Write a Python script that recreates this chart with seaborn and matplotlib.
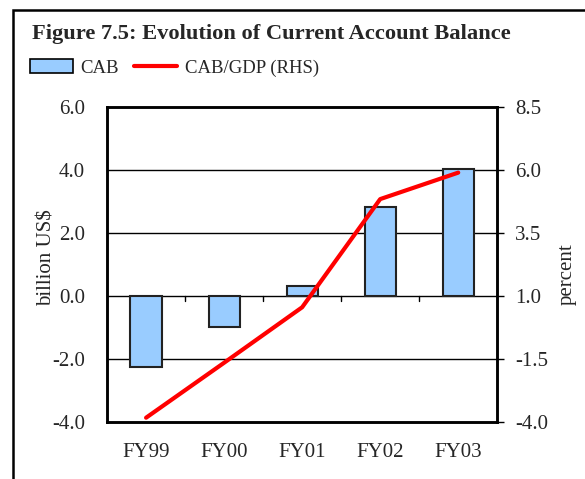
import numpy as np
import pandas as pd
import seaborn as sns
import matplotlib.pyplot as plt
from matplotlib.patches import Patch, Rectangle
from matplotlib.lines import Line2D

years = ["FY99", "FY00", "FY01", "FY02", "FY03"]
cab = [-2.25, -1.0, 0.33, 2.83, 4.02]          # billion US$
cab_gdp = [-3.83, -1.65, 0.55, 4.84, 5.89]     # percent (RHS)

sns.set_theme(style="white")
plt.rcParams["font.family"] = ["Liberation Serif", "DejaVu Serif"]

fig = plt.figure(figsize=(5.85, 4.79), dpi=100)
ax = fig.add_axes([0.183, 0.119, 0.667, 0.658])

df = pd.DataFrame({"year": years, "cab": cab})
sns.barplot(data=df, x="year", y="cab", color="#99ccff", width=0.4,
            edgecolor="#222222", linewidth=1.5, saturation=1, ax=ax, zorder=3)

ax.set_ylim(-4, 6)
ax.set_yticks([-4, -2, 0, 2, 4, 6])
ax.set_yticklabels(["%.1f" % v for v in [-4, -2, 0, 2, 4, 6]])
for v in [-2, 0, 2, 4]:
    ax.axhline(v, color="black", lw=1, zorder=1)
ax.set_xlim(-0.5, 4.5)
ax.set_xlabel("")
ax.set_ylabel("billion US$", fontsize=15)
ax.yaxis.set_label_coords(-0.13, 0.52)
ax.tick_params(axis="y", length=0, labelsize=15, pad=16)
ax.tick_params(axis="x", length=0, labelsize=15, pad=15)
for s in ax.spines.values():
    s.set_color("black")
    s.set_linewidth(1.8)

# category separator ticks on the zero line
for b in np.arange(len(years) - 1) + 0.5:
    ax.plot([b, b], [0, -0.17], color="black", lw=1, zorder=2)

ax2 = ax.twinx()
sns.lineplot(x=np.arange(len(years)), y=cab_gdp, color="#ff0000", lw=3,
             ax=ax2, zorder=4)
ax2.set_ylim(-4, 8.5)
rt = [-4, -1.5, 1, 3.5, 6, 8.5]
ax2.set_yticks(rt)
ax2.set_yticklabels(["%.1f" % v for v in rt])
ax2.tick_params(axis="y", length=5, width=1, color="black", labelsize=15, pad=8, right=True)
ax2.set_ylabel("percent", fontsize=15)
ax2.yaxis.set_label_coords(1.155, 0.47)
for s in ax2.spines.values():
    s.set_color("black")
    s.set_linewidth(1.8)

fig.text(0.055, 0.93, "Figure 7.5: Evolution of Current Account Balance",
         fontsize=16.2, fontweight="bold", va="center", ha="left")

handles = [Patch(facecolor="#99ccff", edgecolor="black", linewidth=1.2),
           Line2D([0], [0], color="#ff0000", lw=3)]
fig.legend(handles, ["CAB", "CAB/GDP (RHS)"], loc="center left",
           bbox_to_anchor=(0.051, 0.858), ncol=2, frameon=False, fontsize=13.5,
           handlelength=2.3, handleheight=0.75, handletextpad=0.4,
           columnspacing=0.8, borderaxespad=0, borderpad=0)

fig.add_artist(Rectangle((0.023, -0.1), 1.1, 1.079, transform=fig.transFigure,
                         fill=False, edgecolor="black", lw=1.8))

fig.savefig("out.png", dpi=100)
